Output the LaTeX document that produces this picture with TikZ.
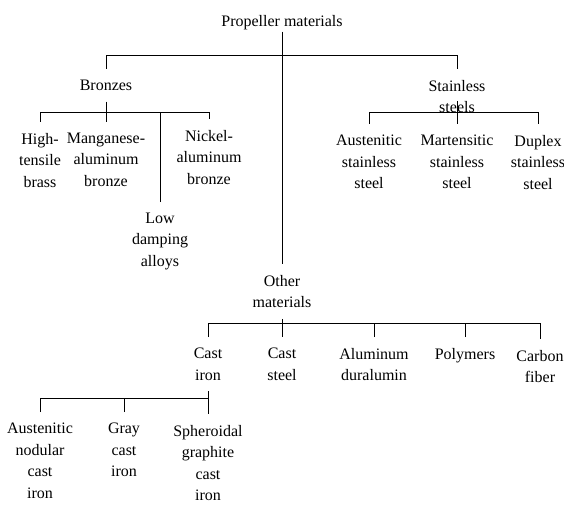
\documentclass[tikz,border=0pt]{standalone}
\usepackage{fontspec}
\setmainfont{Liberation Serif}
\begin{document}
\begin{tikzpicture}[x=1pt,y=-1pt,
                    mat/.style={inner sep=0pt,outer xsep=0pt,outer ysep=11pt,align=center,anchor=north,
                                font=\fontsize{16}{21.5}\selectfont},
                    link/.style={line width=0.7pt}]
    \useasboundingbox (0,0) rectangle (564,505);
    \node[mat,outer ysep=2pt] (root) at (282,13) {Propeller materials};
    \node[mat] (bronzes) at (106,69) {Bronzes};
    \node[mat] (stainless) at (457,69) {Stainless\\steels};
    \node[mat] (hightensile) at (40,122) {High-\\tensile\\brass};
    \node[mat] (manganese) at (106,122) {Manganese-\\aluminum\\bronze};
    \node[mat] (lowdamping) at (160,202) {Low\\damping\\alloys};
    \node[mat] (nickel) at (209,119) {Nickel-\\aluminum\\bronze};
    \node[mat] (austenitic) at (369,124) {Austenitic\\stainless\\steel};
    \node[mat] (martensitic) at (457,124) {Martensitic\\stainless\\steel};
    \node[mat] (duplex) at (538,124) {Duplex\\stainless\\steel};
    \node[mat] (other) at (282,264) {Other\\materials};
    \node[mat] (castiron) at (208,337) {Cast\\iron};
    \node[mat] (caststeel) at (282,337) {Cast\\steel};
    \node[mat] (aluminum) at (374,337) {Aluminum\\duralumin};
    \node[mat] (polymers) at (465,337) {Polymers};
    \node[mat] (carbon) at (540,339) {Carbon\\fiber};
    \node[mat] (nodular) at (40,412) {Austenitic\\nodular\\cast\\iron};
    \node[mat] (gray) at (124,412) {Gray\\cast\\iron};
    \node[mat] (spheroidal) at (208,414) {Spheroidal\\graphite\\cast\\iron};
    \coordinate (topbus) at (282,55);
    \coordinate (bronzebus) at (106,112);
    \coordinate (steelbus) at (457,112);
    \coordinate (steelstem) at (457,101);
    \coordinate (otherbus) at (282,323);
    \coordinate (ironbus) at (124,398);
    \draw[link] (root.south) -- (other.north);
    \draw[link] (bronzes.north) -- (bronzes.north |- topbus) -- (stainless.north |- topbus) -- (stainless.north);
    \draw[link] (hightensile.north) -- (hightensile.north |- bronzebus) -- (nickel.north |- bronzebus) -- (nickel.north);
    \draw[link] (bronzes.south) -- (manganese.north);
    \draw[link] (lowdamping.north) -- (lowdamping.north |- bronzebus);
    \draw[link] (austenitic.north) -- (austenitic.north |- steelbus) -- (duplex.north |- steelbus) -- (duplex.north);
    \draw[link] (steelstem) -- (martensitic.north);
    \draw[link] (castiron.north) -- (castiron.north |- otherbus) -- (carbon.north |- otherbus) -- (carbon.north);
    \draw[link] (other.south) -- (caststeel.north);
    \draw[link] (aluminum.north) -- (aluminum.north |- otherbus);
    \draw[link] (polymers.north) -- (polymers.north |- otherbus);
    \draw[link] (nodular.north) -- (nodular.north |- ironbus) -- (spheroidal.north |- ironbus) -- (spheroidal.north);
    \draw[link] (castiron.south) -- (spheroidal.north);
    \draw[link] (gray.north) -- (gray.north |- ironbus);
\end{tikzpicture}
\end{document}
